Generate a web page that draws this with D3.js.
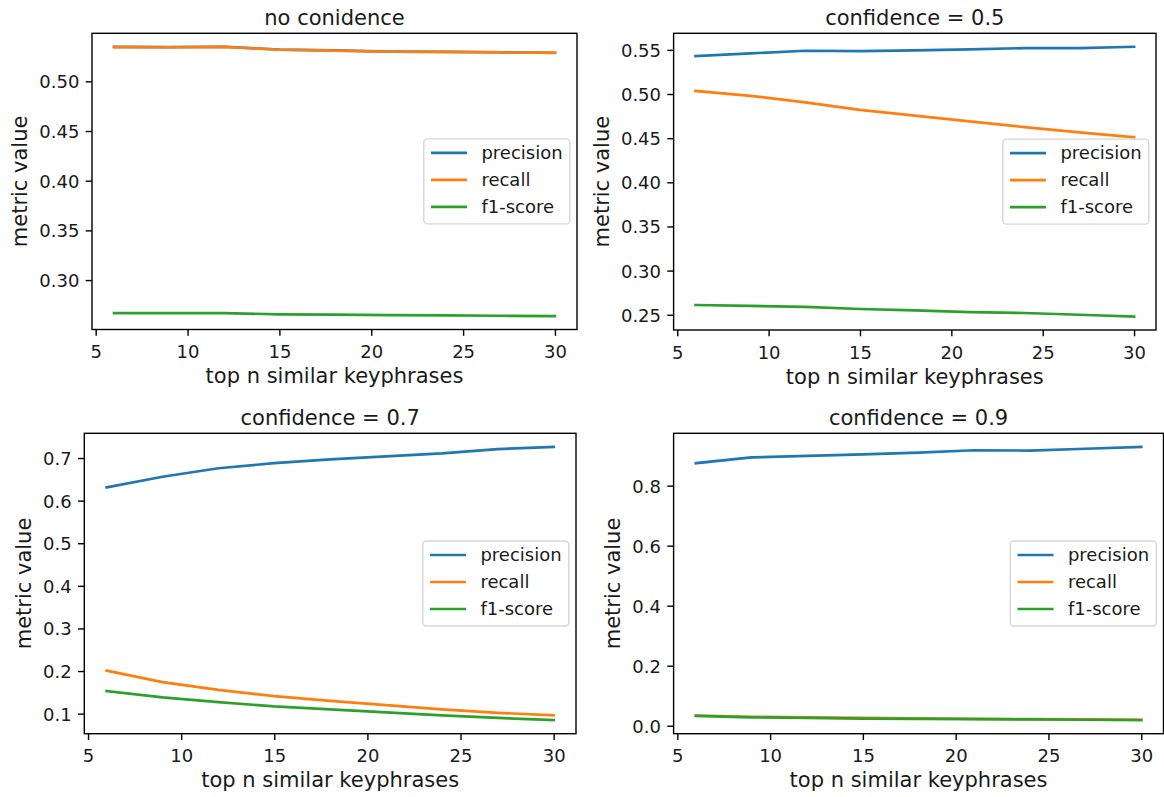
<!DOCTYPE html>
<html>
<head>
<meta charset="utf-8">
<script src="https://cdn.jsdelivr.net/npm/d3@7"></script>
<style>
  html, body { margin: 0; padding: 0; background: #ffffff; }
  svg { display: block; font-family: "DejaVu Sans", sans-serif; }
</style>
</head>
<body>
<svg id="chart" width="1164" height="797"></svg>
<script>
// ---- data ----
const xValues = [6, 9, 12, 15, 18, 21, 24, 27, 30];
const seriesNames = ["precision", "recall", "f1-score"];
const seriesColors = ["#1f77b4", "#ff7f0e", "#2ca02c"];
const panelTitles = ["no conidence", "confidence = 0.5", "confidence = 0.7", "confidence = 0.9"];

const precisionNone = [0.5347, 0.5345, 0.5348, 0.5320, 0.5311, 0.5300, 0.5297, 0.5293, 0.5288];
const recallNone    = [0.5345, 0.5343, 0.5347, 0.5318, 0.5310, 0.5298, 0.5296, 0.5291, 0.5287];
const f1None        = [0.2668, 0.2667, 0.2668, 0.2655, 0.2652, 0.2647, 0.2645, 0.2641, 0.2638];

const precision05 = [0.543, 0.546, 0.549, 0.5485, 0.5495, 0.5505, 0.552, 0.552, 0.5535];
const recall05    = [0.5035, 0.498, 0.4905, 0.482, 0.4755, 0.469, 0.4625, 0.4565, 0.451];
const f105        = [0.261, 0.260, 0.259, 0.2565, 0.255, 0.253, 0.252, 0.250, 0.248];

const precision07 = [0.631, 0.656, 0.676, 0.688, 0.697, 0.704, 0.711, 0.721, 0.726];
const recall07    = [0.201, 0.174, 0.156, 0.141, 0.130, 0.120, 0.110, 0.102, 0.096];
const f107        = [0.153, 0.138, 0.127, 0.117, 0.110, 0.103, 0.096, 0.090, 0.085];

const precision09 = [0.875, 0.894, 0.899, 0.904, 0.910, 0.918, 0.917, 0.923, 0.929];
const recall09    = [0.034, 0.030, 0.028, 0.026, 0.025, 0.023, 0.022, 0.021, 0.020];
const f109        = [0.033, 0.028, 0.026, 0.024, 0.023, 0.022, 0.021, 0.020, 0.019];

const xTicks = [5, 10, 15, 20, 25, 30];
const yTicksNone = [0.30, 0.35, 0.40, 0.45, 0.50];
const yTicks05   = [0.25, 0.30, 0.35, 0.40, 0.45, 0.50, 0.55];
const yTicks07   = [0.1, 0.2, 0.3, 0.4, 0.5, 0.6, 0.7];
const yTicks09   = [0.0, 0.2, 0.4, 0.6, 0.8];
const yTickFormats = [".2f", ".2f", ".1f", ".1f"];

const xLabel = "top n similar keyphrases";
const yLabel = "metric value";

// ---- layout ----
const panels = [
  { box: [92, 577, 33.3, 329.5],   series: [precisionNone, recallNone, f1None], yTicks: yTicksNone },
  { box: [673.6, 1156, 33.3, 330], series: [precision05, recall05, f105],       yTicks: yTicks05 },
  { box: [84.3, 576, 433.3, 733.7], series: [precision07, recall07, f107],      yTicks: yTicks07 },
  { box: [673.6, 1163.5, 433.3, 733.7], series: [precision09, recall09, f109],  yTicks: yTicks09 }
];

const TICK_FS = 18, LABEL_FS = 21, TICK_LEN = 6.3, TICK_PAD = 6.3;
const svg = d3.select("#chart");

panels.forEach((p, i) => {
  const [L, R, T, B] = p.box;
  const xMin = d3.min(xValues), xMax = d3.max(xValues);
  const xm = (xMax - xMin) * 0.05;
  const x = d3.scaleLinear().domain([xMin - xm, xMax + xm]).range([L, R]);
  const all = p.series.flat();
  const yMin = d3.min(all), yMax = d3.max(all);
  const ym = (yMax - yMin) * 0.05;
  const y = d3.scaleLinear().domain([yMin - ym, yMax + ym]).range([B, T]);

  const g = svg.append("g");

  // lines
  const line = d3.line().x((d, k) => x(xValues[k])).y(d => y(d));
  p.series.forEach((s, k) => {
    g.append("path").datum(s)
      .attr("d", line)
      .attr("fill", "none")
      .attr("stroke", seriesColors[k])
      .attr("stroke-width", 2.7)
      .attr("stroke-linejoin", "round")
      .attr("stroke-linecap", "square");
  });

  // axes
  const xAxis = d3.axisBottom(x).tickValues(xTicks).tickFormat(d3.format("d"))
    .tickSize(TICK_LEN).tickPadding(TICK_PAD);
  const gx = g.append("g").attr("transform", `translate(0,${B})`).call(xAxis);
  const yAxis = d3.axisLeft(y).tickValues(p.yTicks).tickFormat(d3.format(yTickFormats[i]))
    .tickSize(TICK_LEN).tickPadding(TICK_PAD);
  const gy = g.append("g").attr("transform", `translate(${L},0)`).call(yAxis);
  [gx, gy].forEach(a => {
    a.select(".domain").remove();
    a.selectAll(".tick line").attr("stroke", "#000").attr("stroke-width", 1.4);
    a.selectAll(".tick text").attr("font-size", TICK_FS).attr("fill", "#1a1a1a")
      .attr("font-family", "DejaVu Sans");
  });
  gx.selectAll(".tick text").attr("dy", null).attr("y", 28.5 - 0).attr("dominant-baseline", "auto");
  gy.selectAll(".tick text").attr("dy", "0.36em");

  // frame
  g.append("rect").attr("x", L).attr("y", T).attr("width", R - L).attr("height", B - T)
    .attr("fill", "none").attr("stroke", "#000").attr("stroke-width", 1.4);

  // y label position from tick label widths
  let maxW = 0;
  gy.selectAll(".tick text").each(function () { maxW = Math.max(maxW, this.getComputedTextLength()); });
  const yLabX = L - TICK_LEN - TICK_PAD - maxW - 7.2 - LABEL_FS * 0.236;
  g.append("text").text(yLabel)
    .attr("transform", `translate(${yLabX},${(T + B) / 2}) rotate(-90)`)
    .attr("text-anchor", "middle").attr("font-size", LABEL_FS).attr("fill", "#1a1a1a");

  // x label
  g.append("text").text(xLabel)
    .attr("x", (L + R) / 2).attr("y", B + 53.5)
    .attr("text-anchor", "middle").attr("font-size", LABEL_FS).attr("fill", "#1a1a1a");

  // title
  g.append("text").text(panelTitles[i])
    .attr("x", (L + R) / 2).attr("y", T - 8.5)
    .attr("text-anchor", "middle").attr("font-size", LABEL_FS).attr("fill", "#1a1a1a");

  // legend (center right)
  const lg = g.append("g");
  const texts = [];
  let tW = 0;
  seriesNames.forEach((n, k) => {
    const t = lg.append("text").text(n).attr("font-size", TICK_FS).attr("fill", "#1a1a1a");
    texts.push(t);
    tW = Math.max(tW, t.node().getComputedTextLength());
  });
  const pad = 7.2, hl = 36, htp = 14.4, rowH = 27;
  const boxW = pad + hl + htp + tW + pad;
  const boxH = 85;
  const bx = R - 7.2 - boxW;
  const by = (T + B) / 2 - boxH / 2;
  lg.insert("rect", ":first-child")
    .attr("x", bx).attr("y", by).attr("width", boxW).attr("height", boxH)
    .attr("rx", 3.5).attr("ry", 3.5)
    .attr("fill", "rgba(255,255,255,0.8)").attr("stroke", "#d6d6d6").attr("stroke-width", 1.4);
  seriesNames.forEach((n, k) => {
    const cy = by + 14 + k * rowH;
    lg.append("line").attr("x1", bx + pad).attr("x2", bx + pad + hl)
      .attr("y1", cy).attr("y2", cy)
      .attr("stroke", seriesColors[k]).attr("stroke-width", 2.7);
    texts[k].attr("x", bx + pad + hl + htp).attr("y", cy).attr("dy", "0.34em");
  });
});
</script>
</body>
</html>
